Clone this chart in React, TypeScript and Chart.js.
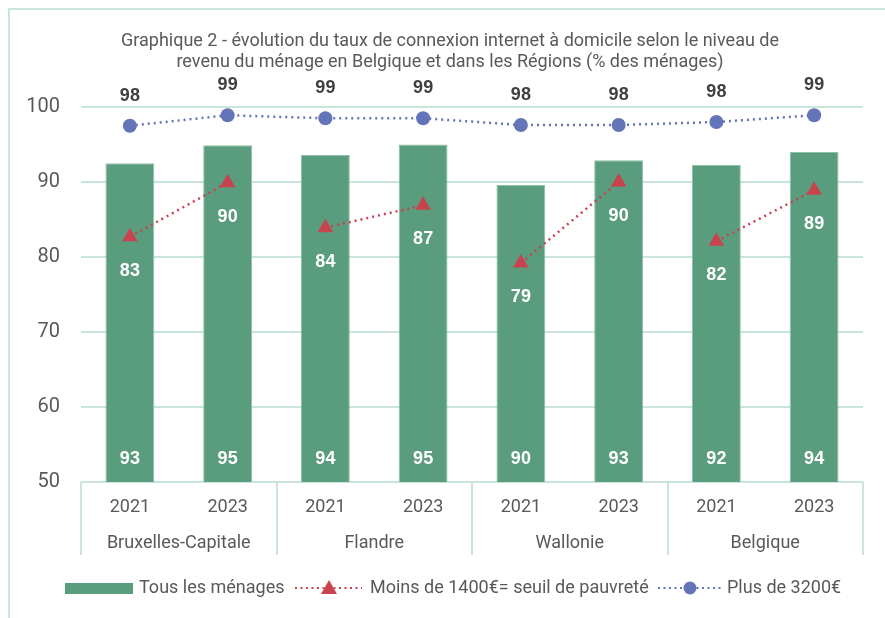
import React, { useEffect, useRef } from "react";
import { Chart, registerables } from "chart.js";

Chart.register(...registerables);

const years = ["2021", "2023", "2021", "2023", "2021", "2023", "2021", "2023"];
const regions = ["Bruxelles-Capitale", "Flandre", "Wallonie", "Belgique"];
const tousMenages = [92.5, 94.9, 93.6, 95.0, 89.6, 92.9, 92.3, 94.0];
const moins1400 = [82.7, 89.9, 83.9, 86.9, 79.2, 90.0, 82.1, 88.9];
const plus3200 = [97.5, 98.9, 98.5, 98.5, 97.6, 97.6, 98.0, 98.9];
const titleLines = [
  "Graphique 2 - évolution du taux de connexion internet à domicile selon le niveau de",
  "revenu du ménage en Belgique et dans les Régions (% des ménages)",
];
const legendLabels = ["Tous les ménages", "Moins de 1400€= seuil de pauvreté", "Plus de 3200€"];

const GREEN = "#5a9c7e";
const RED = "#c9434f";
const BLUE = "#6474b8";
const GRID = "#c9e4db";
const TEXT = "#595959";
const NARROW = '"Roboto", "Liberation Sans", sans-serif';
const SANS = '"Liberation Sans", Arial, sans-serif';

const overlay = {
  id: "overlay",
  afterDraw(chart: any) {
    const ctx = chart.ctx as CanvasRenderingContext2D;
    const area = chart.chartArea;
    const x = chart.scales.x;
    const W = chart.width;
    ctx.save();
    // frame
    ctx.strokeStyle = GRID;
    ctx.lineWidth = 2;
    ctx.beginPath();
    ctx.moveTo(9, chart.height);
    ctx.lineTo(9, 9);
    ctx.lineTo(W, 9);
    ctx.stroke();

    // title
    ctx.fillStyle = TEXT;
    ctx.font = `18px ${NARROW}`;
    ctx.textAlign = "center";
    ctx.textBaseline = "middle";
    ctx.fillText(titleLines[0], 450, 41);
    ctx.fillText(titleLines[1], 450, 62);

    // data labels
    ctx.font = `bold 18px ${SANS}`;
    const m0 = chart.getDatasetMeta(0);
    const m1 = chart.getDatasetMeta(1);
    const m2 = chart.getDatasetMeta(2);
    ctx.fillStyle = "#ffffff";
    m0.data.forEach((el: any, i: number) => {
      ctx.fillText(String(Math.round(tousMenages[i])), el.x, area.bottom - 23);
    });
    m1.data.forEach((el: any, i: number) => {
      ctx.fillText(String(Math.round(moins1400[i])), el.x, el.y + 34);
    });
    ctx.fillStyle = "#404040";
    m2.data.forEach((el: any, i: number) => {
      ctx.fillText(String(Math.round(plus3200[i])), el.x, el.y - 30);
    });

    // x labels
    ctx.fillStyle = TEXT;
    ctx.font = `18px ${NARROW}`;
    years.forEach((y, i) => {
      ctx.fillText(y, x.getPixelForValue(i), area.bottom + 25);
    });
    const step = x.getPixelForValue(1) - x.getPixelForValue(0);
    regions.forEach((r, g) => {
      const c = (x.getPixelForValue(2 * g) + x.getPixelForValue(2 * g + 1)) / 2;
      ctx.fillText(r, c, area.bottom + 61);
    });
    ctx.strokeStyle = GRID;
    ctx.lineWidth = 2;
    for (let g = 0; g <= regions.length; g++) {
      const px = Math.round(x.getPixelForValue(2 * g) - step / 2);
      ctx.beginPath();
      ctx.moveTo(px, area.bottom);
      ctx.lineTo(px, area.bottom + 73);
      ctx.stroke();
    }

    // legend
    const ly = 588;
    ctx.textAlign = "left";
    ctx.font = `18px ${NARROW}`;
    ctx.fillStyle = GREEN;
    ctx.fillRect(65, ly - 5, 68, 11);
    ctx.fillStyle = TEXT;
    ctx.fillText(legendLabels[0], 139, ly);

    ctx.setLineDash([2, 3.5]);
    ctx.lineWidth = 2;
    ctx.strokeStyle = RED;
    ctx.beginPath();
    ctx.moveTo(295, ly);
    ctx.lineTo(362, ly);
    ctx.stroke();
    ctx.strokeStyle = BLUE;
    ctx.beginPath();
    ctx.moveTo(658, ly);
    ctx.lineTo(721, ly);
    ctx.stroke();
    ctx.setLineDash([]);
    ctx.fillStyle = RED;
    ctx.beginPath();
    ctx.moveTo(329, ly - 8);
    ctx.lineTo(337, ly + 6);
    ctx.lineTo(321, ly + 6);
    ctx.closePath();
    ctx.fill();
    ctx.fillStyle = BLUE;
    ctx.beginPath();
    ctx.arc(690, ly, 6.5, 0, Math.PI * 2);
    ctx.fill();
    ctx.fillStyle = TEXT;
    ctx.fillText(legendLabels[1], 370, ly);
    ctx.fillText(legendLabels[2], 727, ly);
    ctx.restore();
  },
};

export default function App() {
  const ref = useRef<HTMLCanvasElement>(null);
  useEffect(() => {
    document.body.style.margin = "0";
    const chart = new Chart(ref.current!, {
      type: "bar",
      data: {
        labels: years,
        datasets: [
          {
            type: "bar",
            label: legendLabels[0],
            data: tousMenages,
            backgroundColor: GREEN,
            borderColor: "#8fc0a8",
            borderWidth: 1,
            barPercentage: 0.5,
            categoryPercentage: 1,
            order: 3,
          },
          {
            type: "line",
            label: legendLabels[1],
            data: moins1400,
            borderColor: RED,
            backgroundColor: RED,
            borderWidth: 2.5,
            borderDash: [2, 4],
            pointStyle: "triangle",
            pointRadius: 9,
            pointBorderWidth: 0,
            segment: {
              borderColor: (c: any) => (c.p0DataIndex % 2 === 0 ? RED : "rgba(0,0,0,0)"),
            },
            order: 1,
          },
          {
            type: "line",
            label: legendLabels[2],
            data: plus3200,
            borderColor: BLUE,
            backgroundColor: BLUE,
            borderWidth: 2.5,
            borderDash: [2, 4],
            pointStyle: "circle",
            pointRadius: 7,
            pointBorderWidth: 0,
            order: 2,
          },
        ],
      },
      options: {
        animation: false,
        responsive: false,
        layout: { padding: { top: 107, bottom: 136, left: 0, right: 22 } },
        plugins: { legend: { display: false }, tooltip: { enabled: false }, title: { display: false } },
        scales: {
          x: { display: false },
          y: {
            min: 50,
            max: 100,
            afterFit: (s: any) => {
              s.width = 81;
            },
            border: { display: false },
            grid: { color: GRID, lineWidth: 2, drawTicks: false },
            ticks: {
              stepSize: 10,
              padding: 21,
              color: TEXT,
              font: { size: 20, family: NARROW },
            },
          },
        },
      },
      plugins: [overlay],
    });
    return () => chart.destroy();
  }, []);
  return <canvas ref={ref} width={885} height={618} style={{ display: "block" }} />;
}
